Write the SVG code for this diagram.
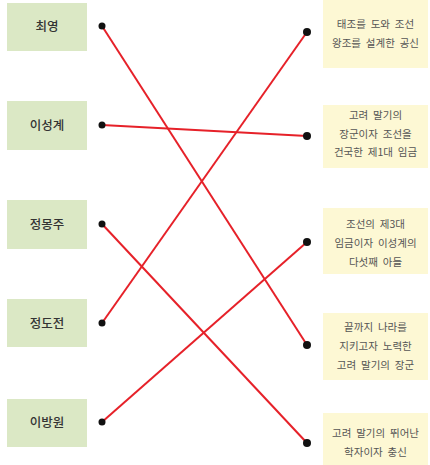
<svg xmlns="http://www.w3.org/2000/svg" width="430" height="465" viewBox="0 0 430 465">
<style>
.l rect{fill:#dbe8c5}
.r rect{fill:#fdf8d4}
.lt{font-family:"Noto Sans CJK KR","Noto Sans",sans-serif;font-size:12.5px;fill:#333;text-anchor:middle;font-weight:500}
.rt{font-family:"Noto Sans CJK KR","Noto Sans",sans-serif;font-size:10.5px;fill:#555;text-anchor:middle;word-spacing:2.5px}
.c line{stroke:#e62129;stroke-width:2}
.d{fill:#111}
</style>
<rect width="430" height="465" fill="#fff"/>
<g id="n1" class="l"><rect x="7" y="3" width="80" height="48"/><text class="lt" x="47" y="31">최영</text></g>
<g id="n2" class="l"><rect x="7" y="101" width="80" height="49"/><text class="lt" x="47" y="130">이성계</text></g>
<g id="n3" class="l"><rect x="7" y="200" width="80" height="49"/><text class="lt" x="47" y="229">정몽주</text></g>
<g id="n4" class="l"><rect x="7" y="299" width="80" height="48"/><text class="lt" x="47" y="328">정도전</text></g>
<g id="n5" class="l"><rect x="7" y="399" width="80" height="48"/><text class="lt" x="47" y="427">이방원</text></g>
<g id="m1" class="r"><rect x="323" y="0" width="105" height="68"/><text class="rt" x="375.5" y="28">태조를 도와 조선</text><text class="rt" x="375.5" y="47">왕조를 설계한 공신</text></g>
<g id="m2" class="r"><rect x="323" y="105" width="105" height="63"/><text class="rt" x="375.5" y="119">고려 말기의</text><text class="rt" x="375.5" y="138">장군이자 조선을</text><text class="rt" x="375.5" y="156">건국한 제1대 임금</text></g>
<g id="m3" class="r"><rect x="323" y="208" width="105" height="66"/><text class="rt" x="375.5" y="228">조선의 제3대</text><text class="rt" x="375.5" y="247">임금이자 이성계의</text><text class="rt" x="375.5" y="266">다섯째 아들</text></g>
<g id="m4" class="r"><rect x="323" y="313" width="105" height="67"/><text class="rt" x="375.5" y="331">끝까지 나라를</text><text class="rt" x="375.5" y="350">지키고자 노력한</text><text class="rt" x="375.5" y="369">고려 말기의 장군</text></g>
<g id="m5" class="r"><rect x="323" y="413" width="105" height="52"/><text class="rt" x="375.5" y="437">고려 말기의 뛰어난</text><text class="rt" x="375.5" y="456">학자이자 충신</text></g>
<g id="connectors" class="c">
<line x1="102" y1="26" x2="307" y2="345"/>
<line x1="102" y1="125" x2="307" y2="136"/>
<line x1="102" y1="224" x2="307" y2="443"/>
<line x1="102" y1="323" x2="307" y2="32"/>
<line x1="102" y1="422" x2="307" y2="242"/>
<circle class="d" cx="102" cy="26" r="3.5"/>
<circle class="d" cx="102" cy="125" r="3.5"/>
<circle class="d" cx="102" cy="224" r="3.5"/>
<circle class="d" cx="102" cy="323" r="3.5"/>
<circle class="d" cx="102" cy="422" r="3.5"/>
<circle class="d" cx="307" cy="32" r="4"/>
<circle class="d" cx="307" cy="136" r="4"/>
<circle class="d" cx="307" cy="242" r="4"/>
<circle class="d" cx="307" cy="345" r="4"/>
<circle class="d" cx="307" cy="443" r="4"/>
</g>
</svg>
